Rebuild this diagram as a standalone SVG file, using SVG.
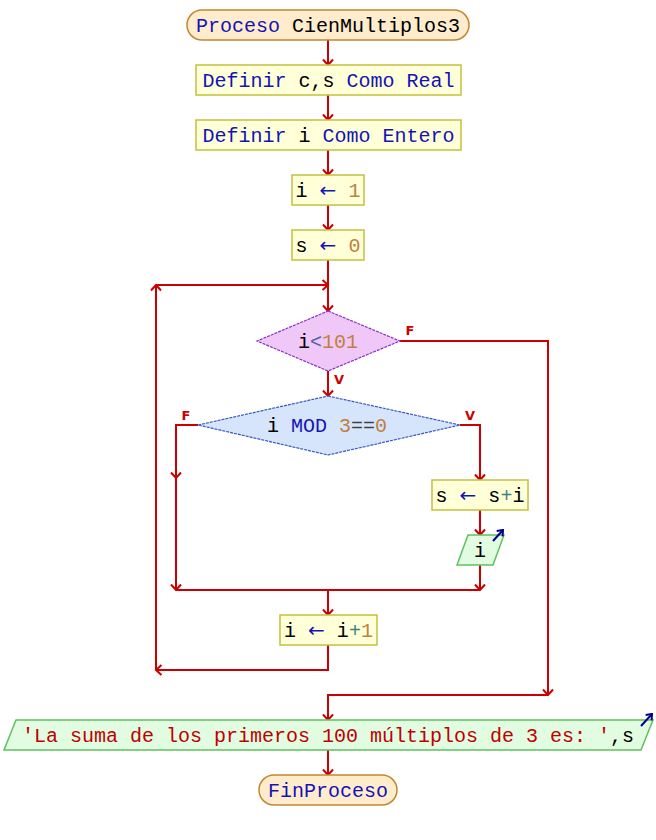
<svg xmlns="http://www.w3.org/2000/svg" width="656" height="840" viewBox="0 0 656 840">
<defs>
<marker id="ah" viewBox="-7 -7 9 14" markerWidth="9" markerHeight="14" refX="0" refY="0" orient="auto" markerUnits="userSpaceOnUse">
<path d="M-5.5,-5 L0,0 L-5.5,5" fill="none" stroke="#cc0000" stroke-width="2"/>
</marker>
<marker id="oh" viewBox="-7 -6 8 12" markerWidth="8" markerHeight="12" refX="0" refY="0" orient="auto" markerUnits="userSpaceOnUse">
<path d="M-5,-4 L0,0 L-5,4" fill="none" stroke="#000090" stroke-width="2"/>
</marker>
</defs>
<style>
text{font-family:"Liberation Mono","DejaVu Sans Mono",monospace;font-size:20px;text-anchor:middle;fill:#000}
.kw{fill:#1414b4}
.num{fill:#c08040}
.op{fill:#1414b4;font-family:"DejaVu Sans","Liberation Sans",sans-serif;font-size:20px}
.lt{fill:#4a62a8}
.pl{fill:#408080}
.eq{fill:#404040}
.str{fill:#c00000}
.lbl{font-family:"DejaVu Sans","Liberation Sans",sans-serif;font-size:13px;font-weight:bold;fill:#cc0000}
.term{fill:#ffeccc;stroke:#c08830;stroke-width:1.5}
.proc{fill:#ffffd8;stroke:#c4c040;stroke-width:1.5}
.io{fill:#e2fce2;stroke:#60c060;stroke-width:1.5}
.d1{fill:#f0c8f8;stroke:#8a30c8;stroke-width:1.2;stroke-dasharray:3 1}
.d2{fill:#d6e4fc;stroke:#3a58c0;stroke-width:1.2;stroke-dasharray:3 1}
.c{fill:none;stroke:#cc0000;stroke-width:2}
.ic{fill:none;stroke:#000090;stroke-width:2}
</style>

<g id="connectors">
<line class="c" x1="328" y1="40" x2="328" y2="65" marker-end="url(#ah)"/>
<line class="c" x1="328" y1="95" x2="328" y2="120" marker-end="url(#ah)"/>
<line class="c" x1="328" y1="150" x2="328" y2="175" marker-end="url(#ah)"/>
<line class="c" x1="328" y1="205" x2="328" y2="230" marker-end="url(#ah)"/>
<line class="c" x1="328" y1="260" x2="328" y2="311" marker-end="url(#ah)"/>
<line class="c" x1="328" y1="371" x2="328" y2="396" marker-end="url(#ah)"/>
<polyline class="c" points="328,645 328,670 156,670" marker-end="url(#ah)"/>
<line class="c" x1="156" y1="670" x2="156" y2="285" marker-end="url(#ah)"/>
<line class="c" x1="156" y1="285" x2="328" y2="285" marker-end="url(#ah)"/>
<polyline class="c" points="400,341 548,341 548,695" marker-end="url(#ah)"/>
<polyline class="c" points="548,695 328,695 328,720" marker-end="url(#ah)"/>
<polyline class="c" points="198,425 176,425 176,478" marker-end="url(#ah)"/>
<line class="c" x1="176" y1="478" x2="176" y2="590" marker-end="url(#ah)"/>
<polyline class="c" points="460,425 480,425 480,480" marker-end="url(#ah)"/>
<line class="c" x1="480" y1="510" x2="480" y2="535" marker-end="url(#ah)"/>
<line class="c" x1="480" y1="565" x2="480" y2="590" marker-end="url(#ah)"/>
<line class="c" x1="176" y1="590" x2="480" y2="590"/>
<line class="c" x1="328" y1="590" x2="328" y2="615" marker-end="url(#ah)"/>
<line class="c" x1="328" y1="750" x2="328" y2="775" marker-end="url(#ah)"/>
<text class="lbl" x="410" y="335">F</text>
<text class="lbl" x="339" y="384">V</text>
<text class="lbl" x="186" y="420">F</text>
<text class="lbl" x="470" y="420">V</text>
</g>

<g id="start">
<rect class="term" x="187" y="10" width="282" height="30" rx="15" ry="15"/>
<text x="328" y="32"><tspan class="kw">Proceso</tspan> CienMultiplos3</text>
</g>

<g id="def-cs">
<rect class="proc" x="196" y="65" width="265" height="30"/>
<text x="328.5" y="87"><tspan class="kw">Definir</tspan> c,s <tspan class="kw">Como</tspan> <tspan class="kw">Real</tspan></text>
</g>

<g id="def-i">
<rect class="proc" x="196" y="120" width="265" height="30"/>
<text x="328.5" y="142"><tspan class="kw">Definir</tspan> i <tspan class="kw">Como</tspan> <tspan class="kw">Entero</tspan></text>
</g>

<g id="assign-i">
<rect class="proc" x="292" y="175" width="72" height="30"/>
<text x="328" y="197">i <tspan class="op">←</tspan> <tspan class="num">1</tspan></text>
</g>

<g id="assign-s">
<rect class="proc" x="292" y="230" width="72" height="30"/>
<text x="328" y="252">s <tspan class="op">←</tspan> <tspan class="num">0</tspan></text>
</g>

<g id="cond-while">
<polygon class="d1" points="328,311 400,341 328,371 257,341"/>
<text x="328" y="348">i<tspan class="lt">&lt;</tspan><tspan class="num">101</tspan></text>
</g>

<g id="cond-mod">
<polygon class="d2" points="328,396 460,425 328,455 198,425"/>
<text x="327" y="432">i <tspan class="kw">MOD</tspan> <tspan class="num">3</tspan><tspan class="eq">==</tspan><tspan class="num">0</tspan></text>
</g>

<g id="sum">
<rect class="proc" x="432" y="480" width="96" height="30"/>
<text x="480" y="502">s <tspan class="op">←</tspan> s<tspan class="pl">+</tspan>i</text>
</g>

<g id="write-i">
<polygon class="io" points="468,535 504,535 493,565 457,565"/>
<text x="480" y="557">i</text>
<line class="ic" x1="493" y1="541" x2="503" y2="530" marker-end="url(#oh)"/>
</g>

<g id="inc-i">
<rect class="proc" x="280" y="615" width="97" height="30"/>
<text x="328.5" y="637">i <tspan class="op">←</tspan> i<tspan class="pl">+</tspan><tspan class="num">1</tspan></text>
</g>

<g id="write-result">
<polygon class="io" points="16,720 653,720 641,750 4,750"/>
<text x="328" y="742"><tspan class="str">'La suma de los primeros 100 múltiplos de 3 es: '</tspan>,s</text>
<line class="ic" x1="641" y1="726" x2="652" y2="714" marker-end="url(#oh)"/>
</g>

<g id="end">
<rect class="term" x="259" y="775" width="138" height="30" rx="15" ry="15"/>
<text x="328" y="797" class="kw">FinProceso</text>
</g>
</svg>
